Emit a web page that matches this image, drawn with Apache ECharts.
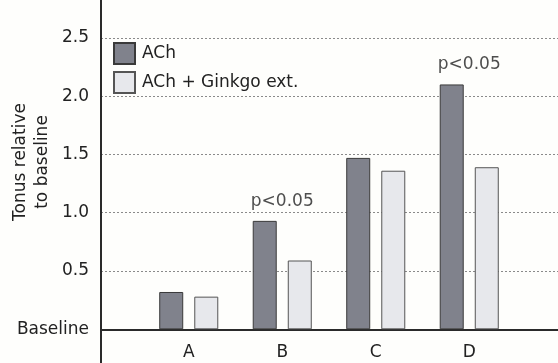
<!DOCTYPE html>
<html>
<head>
<meta charset="utf-8">
<script src="https://cdn.jsdelivr.net/npm/echarts@6/dist/echarts.min.js"></script>
<style>
html,body{margin:0;padding:0;background:#fefefc;}
#chart{width:558px;height:363px;}
</style>
</head>
<body>
<div id="chart"></div>
<script>
var categories = ['A', 'B', 'C', 'D'];
var achValues = [0.32, 0.93, 1.47, 2.10];
var ginkgoValues = [0.28, 0.59, 1.36, 1.39];
var pLabels = ['', 'p<0.05', '', 'p<0.05'];
var seriesNames = ['ACh', 'ACh + Ginkgo ext.'];
var yTitle = 'Tonus relative\nto baseline';

var FONT = 'DejaVu Sans';
var TXT = '#222';
var gTop = -20.5, gBottom = -24.6;
var Y_MIN = -0.5, Y_MAX = 3.0;
var gridH = 363 - gTop - gBottom;
var zeroOffset = -gridH * (0 - Y_MIN) / (Y_MAX - Y_MIN);

var pData = categories.map(function (c, i) {
  return pLabels[i] ? { value: [c, Math.max(achValues[i], ginkgoValues[i])], label: { formatter: pLabels[i] } } : null;
}).filter(function (d) { return d; });

var chart = echarts.init(document.getElementById('chart'), null, { renderer: 'canvas' });
chart.setOption({
  backgroundColor: '#fefefc',
  animation: false,
  textStyle: { fontFamily: FONT },
  grid: [
    { left: 101, right: 0, top: gTop, bottom: gBottom, containLabel: false, outerBoundsMode: 'none' },
    { left: 142, width: 374, top: gTop, bottom: gBottom, containLabel: false, outerBoundsMode: 'none' }
  ],
  legend: {
    orient: 'vertical', left: 113, top: 42, padding: 0,
    itemWidth: 21, itemHeight: 21, itemGap: 6, icon: 'rect',
    data: seriesNames,
    textStyle: { fontFamily: FONT, fontSize: 17, color: TXT, padding: [0, 0, 0, 2] }
  },
  xAxis: [
    { gridIndex: 0, type: 'value', min: 0, max: 1,
      axisLine: { show: true, onZero: true, lineStyle: { color: '#2a2a2a', width: 2 } },
      axisTick: { show: false }, axisLabel: { show: false }, splitLine: { show: false } },
    { gridIndex: 1, type: 'category', data: categories, position: 'bottom', offset: zeroOffset,
      axisLine: { show: false, onZero: false }, axisTick: { show: false },
      axisLabel: { fontFamily: FONT, fontSize: 17, color: TXT, margin: 15 } }
  ],
  yAxis: [
    { gridIndex: 0, type: 'value', min: Y_MIN, max: Y_MAX, interval: 0.5,
      axisLine: { show: true, lineStyle: { color: '#2a2a2a', width: 2 } },
      axisTick: { show: false },
      axisLabel: { fontFamily: FONT, fontSize: 17, color: TXT, margin: 12,
        formatter: function (v) { if (Math.abs(v) < 1e-9) return 'Baseline'; if (v < 0 || v > 2.6) return ''; return v.toFixed(1); } },
      splitLine: { show: true, lineStyle: { color: '#8a8a8a', type: [2, 2], width: 1 } } },
    { gridIndex: 1, type: 'value', min: Y_MIN, max: Y_MAX, interval: 0.5, show: false }
  ],
  series: [
    { name: seriesNames[0], type: 'bar', xAxisIndex: 1, yAxisIndex: 1, data: achValues,
      barWidth: 24, barGap: '46%',
      itemStyle: { color: '#80828c', borderColor: '#3a3a3a', borderWidth: 1 } },
    { name: seriesNames[1], type: 'bar', xAxisIndex: 1, yAxisIndex: 1, data: ginkgoValues,
      barWidth: 24, barGap: '46%',
      itemStyle: { color: '#e7e8ec', borderColor: '#555', borderWidth: 1 } },
    { type: 'scatter', xAxisIndex: 1, yAxisIndex: 1, data: pData, symbolSize: 0, silent: true,
      label: { show: true, position: 'top', distance: 11, fontFamily: FONT, fontSize: 17, color: TXT } }
  ],
  graphic: [
    { type: 'text', x: 32, y: 162, rotation: Math.PI / 2,
      style: { text: yTitle, fontFamily: FONT, fontSize: 17, fill: TXT, align: 'center', verticalAlign: 'middle', lineHeight: 22 } }
  ]
});
</script>
</body>
</html>
